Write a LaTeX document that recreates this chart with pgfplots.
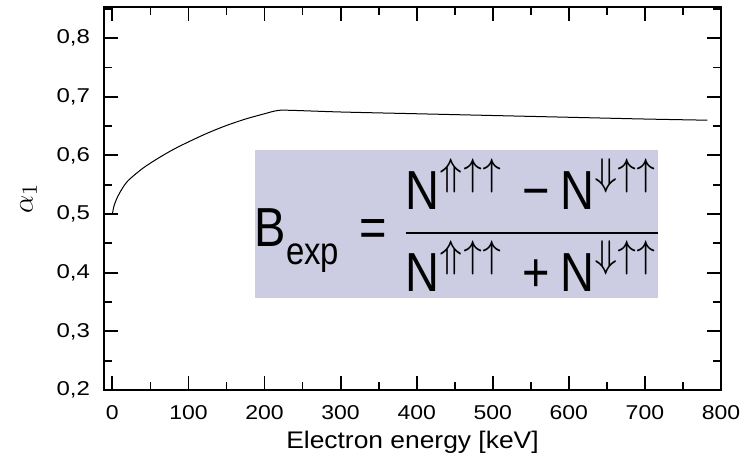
\documentclass[border=0pt]{standalone}
\usepackage{pgfplots}
\pgfplotsset{compat=1.18}
\usepackage{amsmath}
\usepackage{graphicx}
\usepackage{fontspec}
\setmainfont{Liberation Sans}
\definecolor{boxfill}{RGB}{204,204,226}
\begin{document}
\begin{tikzpicture}
\useasboundingbox (-52pt,-33pt) rectangle (323.5pt,195pt);
\begin{axis}[
  scale only axis,
  width=308.5pt, height=191.5pt,
  xmin=-11, xmax=800,
  ymin=0.2, ymax=0.853,
  xtick={0,100,...,800},
  ytick={0.2,0.3,...,0.8},
  minor xtick={50,150,...,750},
  minor ytick={0.25,0.35,...,0.85},
  tick align=inside,
  major tick length=7pt,
  minor tick length=4pt,
  axis line style={line width=1pt},
  every tick/.style={line width=0.9pt, black},
  /pgf/number format/assume math mode=true,
  yticklabel={\scalebox{1.2}[1]{\pgfmathprintnumber[fixed, fixed zerofill, precision=1, use comma]{\tick}}},
  xticklabel={\scalebox{1.15}[1]{\pgfmathprintnumber[fixed, precision=0]{\tick}}},
  yticklabel style={xshift=-3.5pt},
  xticklabel style={yshift=-4pt},
  ticklabel style={font=\fontsize{10}{12}\selectfont},
  xlabel={\scalebox{1.1}[1]{Electron energy [keV]}},
  xlabel style={font=\fontsize{12}{14}\selectfont, yshift=1pt},
  ylabel={$\alpha_1$},
  ylabel style={font=\fontsize{15}{17}\selectfont, yshift=3pt},
  clip=false,
]
\addplot[black, line width=0.5pt, smooth] coordinates {
(0,0.500) (2,0.513) (5,0.524) (10,0.537) (20,0.556) (40,0.578) (60,0.595)
(80,0.610) (100,0.623) (125,0.638) (150,0.651) (175,0.662) (200,0.671)
(215,0.676) (230,0.677) (300,0.674) (400,0.671) (500,0.668) (600,0.665)
(700,0.662) (782,0.660)
};
\fill[boxfill] (axis cs:188,0.357) rectangle (axis cs:717,0.609);
\node at (axis cs:456,0.481) {\scalebox{2.35}[2.75]{\normalsize$\text{B}_{\raisebox{-1.8pt}{\fontsize{7}{8}\selectfont exp}}\mkern2mu \mathrel{\text{=}} \dfrac{\text{N}^{\Uparrow\uparrow\uparrow}\mkern3mu\mathbin{\text{−}}\text{N}^{\Downarrow\uparrow\uparrow}}{\text{N}^{\Uparrow\uparrow\uparrow}\mkern3mu\mathbin{\text{+}}\text{N}^{\Downarrow\uparrow\uparrow}}$}};
\end{axis}
\end{tikzpicture}
\end{document}
